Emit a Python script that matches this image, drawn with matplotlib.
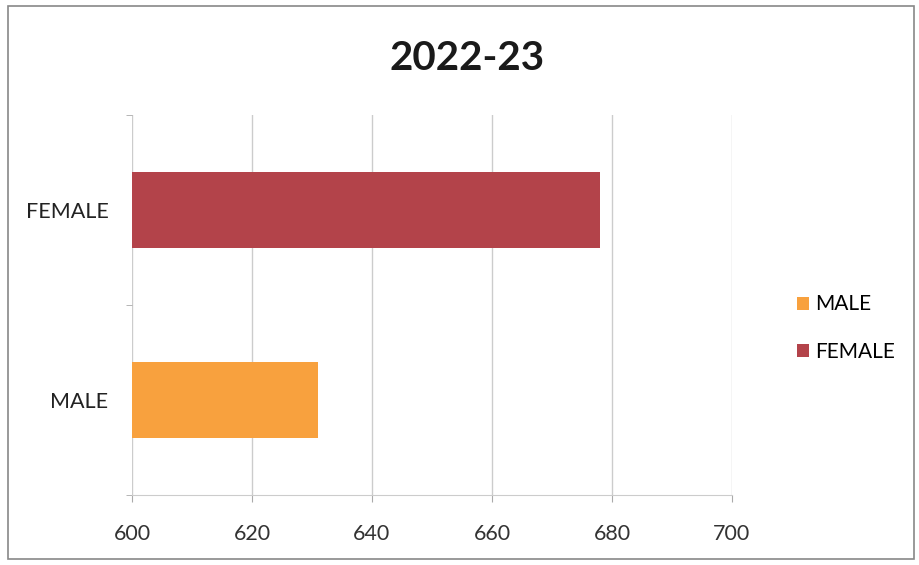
import matplotlib
matplotlib.use("Agg")
import matplotlib.pyplot as plt
from matplotlib.patches import Rectangle, Patch

categories = ["MALE", "FEMALE"]
values = [631, 678]
colors = ["#F8A13E", "#B3434A"]
title = "2022-23"
xticks = [600, 620, 640, 660, 680, 700]

plt.rcParams['font.family'] = ['Lato', 'DejaVu Sans']

fig = plt.figure(figsize=(9.2, 5.65), dpi=100)
ax = fig.add_axes([132/920, 1-495/565, 600/920, 380/565])

ypos = list(range(len(categories)))
ax.barh(ypos, [v - 600 for v in values], left=600, height=0.4, color=colors, zorder=3)

ax.set_xlim(600, 700)
ax.set_ylim(-0.5, 1.5)
ax.set_xticks(xticks)
ax.set_xticklabels([str(t) for t in xticks], fontsize=15.5, color="#333333")
ax.set_yticks(ypos)
ax.set_yticklabels(categories, fontsize=15.5, color="#222222")
ax.tick_params(axis='y', length=0, pad=17)
ax.tick_params(axis='x', length=5, color="#AAAAAA", pad=16, direction='out')
ax.set_yticks([-0.5, 0.5, 1.5], minor=True)
ax.tick_params(axis='y', which='minor', length=4, color="#AAAAAA")
ax.grid(axis='x', color="#CCCCCC", linewidth=1, zorder=0)
for s in ['top', 'right', 'left']:
    ax.spines[s].set_visible(False)
ax.spines['bottom'].set_color("#CCCCCC")

fig.text(467/920, 1-58/565, title, fontsize=29, fontweight='bold', ha='center', va='center', color="#1a1a1a")

handles = [Patch(facecolor=colors[0]), Patch(facecolor=colors[1])]
fig.legend(handles, categories, loc='center left', bbox_to_anchor=(778/920, 1-328/565),
           frameon=False, fontsize=15, handlelength=0.6, handleheight=0.6,
           handletextpad=0.3, labelspacing=1.3)

fig.patches.append(Rectangle((8/920, 6/565), 906/920, 553/565, transform=fig.transFigure,
                             fill=False, edgecolor="#888888", linewidth=1.2))

fig.savefig("out.png", dpi=100)
